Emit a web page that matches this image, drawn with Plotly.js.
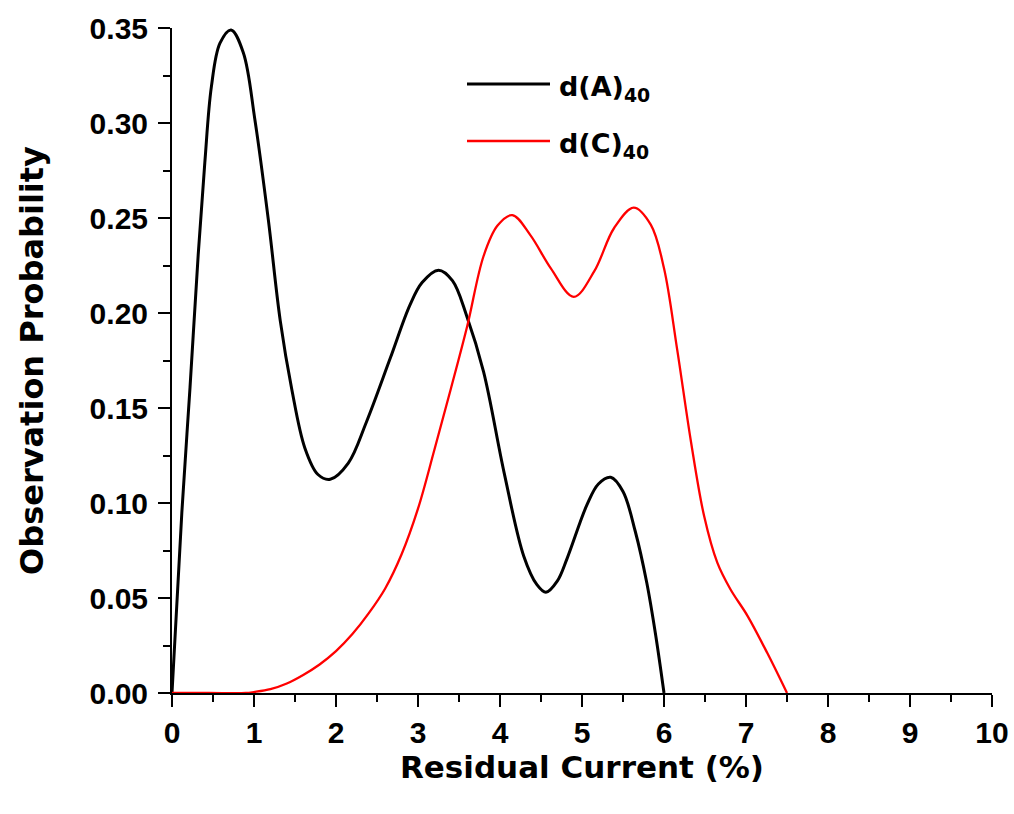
<!DOCTYPE html>
<html>
<head>
<meta charset="utf-8">
<script src="https://cdn.plot.ly/plotly-3.0.1.min.js"></script>
<style>
  html, body { margin: 0; padding: 0; background: #ffffff; }
  #chart { width: 1014px; height: 814px; }
</style>
</head>
<body>
<div id="chart"></div>
<script>
// ---- data ----
const seriesNames = ['d(A)<sub>40</sub>', 'd(C)<sub>40</sub>'];

const xA = [0, 0.12, 0.22, 0.32, 0.40, 0.48, 0.585, 0.72, 0.87, 1.01, 1.175, 1.32, 1.46, 1.62, 1.78, 1.93, 2.15, 2.37, 2.66, 2.9, 3.05, 3.25, 3.42, 3.59, 3.8, 4.05, 4.29, 4.45, 4.56, 4.7, 4.82, 5.06, 5.2, 5.35, 5.5, 5.65, 5.79, 5.9, 6.0];
const yA = [0, 0.095, 0.161, 0.231, 0.279, 0.319, 0.342, 0.349, 0.337, 0.302, 0.249, 0.196, 0.160, 0.129, 0.115, 0.1125, 0.121, 0.1425, 0.176, 0.204, 0.216, 0.2225, 0.217, 0.199, 0.169, 0.116, 0.072, 0.057, 0.053, 0.059, 0.071, 0.099, 0.110, 0.1135, 0.106, 0.085, 0.058, 0.030, 0];

const xC = [0, 0.45, 0.9, 1.0, 1.2, 1.4, 1.6, 1.8, 2.0, 2.2, 2.4, 2.6, 2.8, 3.0, 3.2, 3.4, 3.6, 3.8, 3.97, 4.15, 4.37, 4.62, 4.9, 5.15, 5.39, 5.63, 5.84, 6.0, 6.16, 6.33, 6.49, 6.65, 6.81, 7.02, 7.26, 7.5];
const yC = [0, 0, 0, 0.0005, 0.002, 0.005, 0.0095, 0.015, 0.022, 0.031, 0.042, 0.055, 0.073, 0.097, 0.128, 0.160, 0.193, 0.230, 0.246, 0.2515, 0.241, 0.2235, 0.2085, 0.222, 0.2446, 0.2555, 0.2464, 0.2235, 0.181, 0.132, 0.093, 0.0686, 0.0546, 0.0405, 0.021, 0];

const xTickVals = [0, 1, 2, 3, 4, 5, 6, 7, 8, 9, 10];
const yTickVals = [0, 0.05, 0.10, 0.15, 0.20, 0.25, 0.30, 0.35];

// ---- styles ----
const colA = '#000000';
const colC = '#ff0000';
const tickFont = { family: 'Liberation Sans, Arial, sans-serif', size: 30, color: '#000', weight: 'bold' };
const titleFont = { family: 'DejaVu Sans, sans-serif', size: 31, color: '#000', weight: 'bold' };

const traces = [
  { x: xA, y: yA, type: 'scatter', mode: 'lines', name: seriesNames[0],
    line: { color: colA, width: 3, shape: 'spline', smoothing: 1 }, showlegend: false },
  { x: xC, y: yC, type: 'scatter', mode: 'lines', name: seriesNames[1],
    line: { color: colC, width: 2.3, shape: 'spline', smoothing: 1 }, showlegend: false }
];

const W = 1014, H = 814, mL = 172, mR = 22, mT = 28, mB = 121;
const pw = W - mL - mR, ph = H - mT - mB;
const px = v => (v - mL) / pw;
const py = v => (H - mB - v) / ph;

const legendRows = [
  { name: seriesNames[0], color: colA, width: 3, ypix: 84 },
  { name: seriesNames[1], color: colC, width: 2.3, ypix: 141 }
];

const shapes = legendRows.map(r => ({
  type: 'line', xref: 'paper', yref: 'paper',
  x0: px(467), x1: px(550), y0: py(r.ypix), y1: py(r.ypix),
  line: { color: r.color, width: r.width }
}));
const annotations = legendRows.map(r => ({
  xref: 'paper', yref: 'paper', x: px(557), y: py(r.ypix + 4),
  xanchor: 'left', yanchor: 'middle', showarrow: false,
  text: r.name, font: { family: 'DejaVu Sans, sans-serif', size: 27, color: '#000', weight: 'bold' }
}));

const layout = {
  width: W, height: H,
  margin: { l: mL, r: mR, t: mT, b: mB },
  paper_bgcolor: '#ffffff', plot_bgcolor: '#ffffff',
  showlegend: false,
  xaxis: {
    range: [0, 10], tickvals: xTickVals, ticktext: xTickVals.map(String),
    showline: true, linecolor: '#000', linewidth: 2, mirror: false,
    ticks: 'outside', ticklen: 12, tickwidth: 2, tickcolor: '#000',
    minor: { dtick: 0.5, ticks: 'outside', ticklen: 7, tickwidth: 2, tickcolor: '#000' },
    showgrid: false, zeroline: false, tickfont: tickFont,
    title: { text: 'Residual Current (%)', font: titleFont, standoff: 7 }
  },
  yaxis: {
    range: [0, 0.35], tickvals: yTickVals, ticktext: yTickVals.map(v => v.toFixed(2)),
    showline: true, linecolor: '#000', linewidth: 2, mirror: false,
    ticks: 'outside', ticklen: 12, tickwidth: 2, tickcolor: '#000',
    minor: { dtick: 0.025, ticks: 'outside', ticklen: 7, tickwidth: 2, tickcolor: '#000' },
    showgrid: false, zeroline: false, tickfont: tickFont, ticklabelstandoff: 4,
    title: { text: 'Observation Probability', font: { ...titleFont, size: 32 }, standoff: 36 }
  },
  shapes: shapes,
  annotations: annotations
};

Plotly.newPlot('chart', traces, layout, { staticPlot: true, displayModeBar: false });
</script>
</body>
</html>
